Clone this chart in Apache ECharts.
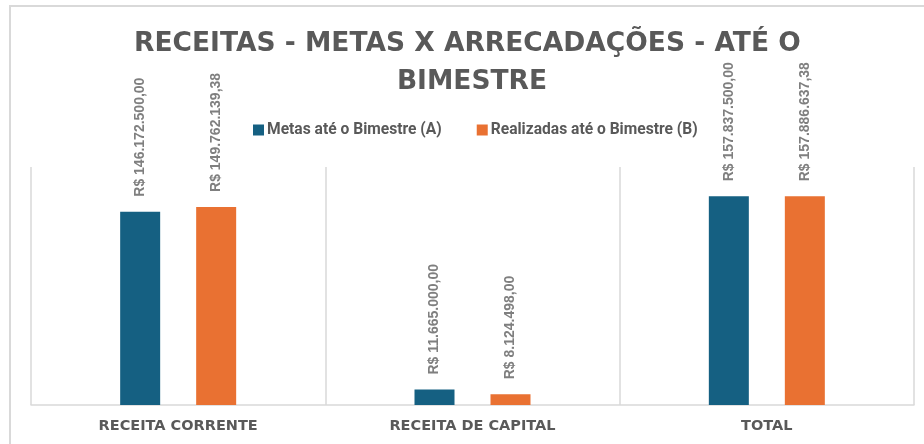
<!DOCTYPE html>
<html>
<head>
<meta charset="utf-8">
<script src="https://cdn.jsdelivr.net/npm/echarts@6/dist/echarts.min.js"></script>
<style>
  html, body { margin: 0; padding: 0; background: #fff; }
  #frame { position: absolute; left: 9px; top: 5px; width: 930px; height: 450px;
           border-top: 2px solid #d9d9d9; border-left: 2px solid #d9d9d9; }
  #main { position: absolute; left: 0; top: 0; width: 924px; height: 444px; }
</style>
</head>
<body>
<div id="frame"></div>
<div id="main"></div>
<script>
// dados do gráfico
var categorias = ['RECEITA CORRENTE', 'RECEITA DE CAPITAL', 'TOTAL'];
var metas = [146172500.00, 11665000.00, 157837500.00];
var realizadas = [149762139.38, 8124498.00, 157886637.38];
var nomesSeries = ['Metas até o Bimestre (A)', 'Realizadas até o Bimestre (B)'];

// formata no padrão R$ 1.234,56
function formatoReal(v) {
  var partes = v.toFixed(2).split('.');
  var inteiro = partes[0].replace(/\B(?=(\d{3})+(?!\d))/g, '.');
  return 'R$ ' + inteiro + ',' + partes[1];
}

var myChart = echarts.init(document.getElementById('main'));

var rotulo = {
  show: true,
  position: 'top',
  rotate: 90,
  align: 'left',
  verticalAlign: 'middle',
  distance: 15,
  color: '#7f7f7f',
  fontFamily: 'Liberation Sans',
  fontWeight: 'bold',
  fontSize: 14,
  formatter: function (p) { return formatoReal(p.value); }
};

var option = {
  backgroundColor: 'transparent',
  title: {
    text: 'RECEITAS - METAS X ARRECADAÇÕES - ATÉ O BIMESTRE',
    left: 467,
    textAlign: 'center',
    top: 20,
    textStyle: {
      color: '#595959',
      fontFamily: 'DejaVu Sans',
      fontWeight: 'bold',
      fontSize: 26.5,
      lineHeight: 38,
      width: 720,
      overflow: 'break'
    }
  },
  legend: {
    data: nomesSeries,
    left: 253,
    top: 122,
    padding: 0,
    itemWidth: 11,
    itemHeight: 11,
    itemGap: 35,
    icon: 'rect',
    textStyle: {
      color: '#595959',
      fontFamily: 'Roboto',
      fontWeight: 'bold',
      fontSize: 15.6,
      padding: [0, 0, 0, -2]
    }
  },
  grid: {
    left: 31,
    right: 10,
    top: 167,
    bottom: 39
  },
  xAxis: {
    type: 'category',
    data: categorias,
    axisTick: { show: false },
    axisLine: { lineStyle: { color: '#d9d9d9', width: 1.5 } },
    splitLine: { show: true, interval: 0, lineStyle: { color: '#d9d9d9', width: 1.5 } },
    axisLabel: {
      color: '#595959',
      fontFamily: 'DejaVu Sans',
      fontWeight: 'bold',
      fontSize: 14.5,
      margin: 14
    }
  },
  yAxis: {
    type: 'value',
    min: 0,
    max: 180000000,
    show: false,
    splitLine: { show: false }
  },
  series: [
    {
      name: nomesSeries[0],
      type: 'bar',
      data: metas,
      barWidth: 40,
      barGap: '90%',
      itemStyle: { color: '#156082' },
      label: rotulo
    },
    {
      name: nomesSeries[1],
      type: 'bar',
      data: realizadas,
      barWidth: 40,
      itemStyle: { color: '#e97132' },
      label: rotulo
    }
  ]
};

myChart.setOption(option);
</script>
</body>
</html>
